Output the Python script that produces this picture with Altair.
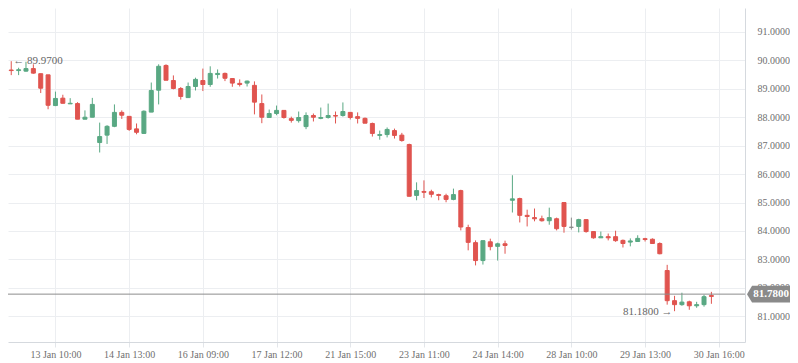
import altair as alt
import pandas as pd

# ---- data (one candle per trading period) ----
opens = [89.66, 89.64, 89.62, 89.71, 89.53, 89.49, 88.41, 88.67, 88.47, 88.48,
         87.93, 88.00, 87.11, 87.37, 87.68, 88.17, 88.03, 87.59, 87.43, 88.18,
         88.95, 89.82, 89.29, 89.01, 88.69, 89.08, 89.29, 89.15, 89.50, 89.54,
         89.36, 89.19, 89.20, 89.12, 88.48, 87.99, 88.13, 88.24, 87.95, 87.88,
         87.67, 88.06, 87.96, 87.99, 88.06, 88.06, 88.17, 88.02, 87.96, 87.78,
         87.36, 87.39, 87.53, 87.37, 87.04, 85.25, 85.39, 85.38, 85.28, 85.24,
         85.11, 85.42, 84.12, 83.59, 82.96, 83.62, 83.46, 83.55, 85.08, 85.14,
         84.55, 84.47, 84.43, 84.36, 84.43, 85.00, 84.13, 84.16, 84.40, 83.98,
         83.76, 83.80, 83.80, 83.67, 83.61, 83.63, 83.73, 83.71, 83.56, 82.61,
         81.55, 81.41, 81.51, 81.37, 81.41, 81.73]
highs = [89.97, 89.74, 89.95, 89.86, 89.53, 89.49, 88.90, 88.79, 88.67, 88.53,
         88.24, 88.68, 87.81, 87.72, 88.45, 88.24, 88.03, 87.78, 88.24, 89.22,
         89.86, 89.86, 89.47, 89.06, 89.22, 89.39, 89.71, 89.79, 89.68, 89.57,
         89.36, 89.33, 89.29, 89.26, 88.80, 88.27, 88.41, 88.24, 88.02, 88.20,
         88.17, 88.13, 88.34, 88.48, 88.20, 88.52, 88.17, 88.17, 87.99, 87.81,
         87.53, 87.64, 87.60, 87.45, 87.07, 85.71, 85.78, 85.45, 85.31, 85.31,
         85.49, 85.45, 84.22, 83.67, 83.66, 83.73, 83.59, 83.66, 85.96, 85.17,
         84.75, 84.79, 84.54, 84.82, 84.47, 85.00, 84.47, 84.43, 84.40, 83.98,
         83.98, 83.91, 84.01, 83.70, 83.74, 83.85, 83.76, 83.74, 83.60, 82.81,
         81.72, 81.83, 81.55, 81.51, 81.76, 81.86]
lows = [89.48, 89.48, 89.60, 89.53, 88.85, 88.28, 88.39, 88.49, 88.47, 87.93,
        87.93, 88.00, 86.76, 87.06, 87.65, 87.94, 87.52, 87.40, 87.41, 88.18,
        88.45, 89.30, 88.98, 88.62, 88.69, 88.94, 88.92, 89.07, 89.36, 89.27,
        89.07, 89.08, 89.08, 88.10, 87.79, 87.99, 88.07, 87.95, 87.81, 87.81,
        87.58, 87.85, 87.93, 87.95, 87.78, 88.02, 87.92, 87.78, 87.79, 87.32,
        87.21, 87.29, 87.25, 87.14, 85.22, 85.08, 85.16, 85.18, 85.08, 85.01,
        85.08, 84.02, 83.32, 82.79, 82.82, 83.32, 82.96, 83.20, 84.65, 84.30,
        84.16, 84.34, 84.33, 84.22, 84.02, 83.94, 84.05, 83.95, 83.94, 83.73,
        83.76, 83.67, 83.62, 83.42, 83.46, 83.63, 83.63, 83.56, 83.18, 81.41,
        81.18, 81.37, 81.23, 81.30, 81.34, 81.44]
closes = [89.64, 89.67, 89.71, 89.55, 89.02, 88.42, 88.66, 88.49, 88.49, 87.93,
          88.00, 88.45, 87.32, 87.68, 88.17, 88.07, 87.57, 87.47, 88.21, 88.94,
          89.79, 89.30, 89.01, 88.73, 89.08, 89.33, 89.15, 89.54, 89.54, 89.37,
          89.20, 89.15, 89.27, 88.53, 88.00, 88.13, 88.24, 87.99, 87.89, 87.99,
          88.06, 88.00, 87.99, 88.06, 88.04, 88.20, 87.99, 87.96, 87.79, 87.43,
          87.39, 87.57, 87.36, 87.18, 85.22, 85.42, 85.36, 85.29, 85.25, 85.11,
          85.28, 84.14, 83.60, 82.96, 83.66, 83.45, 83.55, 83.49, 85.13, 84.55,
          84.51, 84.43, 84.36, 84.47, 84.08, 84.16, 84.13, 84.40, 83.98, 83.76,
          83.80, 83.76, 83.66, 83.56, 83.65, 83.74, 83.70, 83.56, 83.20, 81.55,
          81.41, 81.50, 81.37, 81.41, 81.69, 81.70]

tick_positions = [6, 16, 26, 36, 46, 56, 66, 76, 86, 96]
tick_labels = ["13 Jan 10:00", "14 Jan 13:00", "16 Jan 09:00", "17 Jan 12:00",
               "21 Jan 15:00", "23 Jan 11:00", "24 Jan 14:00", "28 Jan 10:00",
               "29 Jan 13:00", "30 Jan 16:00"]
y_ticks = [81, 82, 83, 84, 85, 86, 87, 88, 89, 90, 91]
last_price = 81.78

GREEN = "#59a883"
RED = "#e0544f"
GRAY = "#8a8a8a"
FONT = "Liberation Serif"

n = len(opens)
colors = []
for o, c in zip(opens, closes):
    colors.append(GREEN if c > o else (RED if c < o else GRAY))

df = pd.DataFrame({"i": list(range(n)), "open": opens, "high": highs,
                   "low": lows, "close": closes, "col": colors})

imax = highs.index(max(highs))
imin = lows.index(min(lows))
ann_max = pd.DataFrame({"i": [imax], "v": [highs[imax]],
                        "t": ["\u2190 " + format(highs[imax], ".4f")]})
ann_min = pd.DataFrame({"i": [imin], "v": [lows[imin]],
                        "t": [format(lows[imin], ".4f") + " \u2192"]})
price_df = pd.DataFrame({"p": [last_price], "t": [format(last_price, ".4f")]})

label_arr = "[" + ",".join("'" + s + "'" for s in tick_labels) + "]"

xscale = alt.Scale(domain=[-0.44, 99.56], nice=False, zero=False, padding=0)
yscale = alt.Scale(domain=[80.097, 91.84], nice=False, zero=False, padding=0)

x_axis = alt.Axis(values=tick_positions, labelExpr=label_arr + "[(datum.value-6)/10]",
                  grid=True, gridColor="#eceef1", domainColor="#d5d9de",
                  tickColor="#e3e6ea", tickSize=5, labelPadding=2,
                  labelColor="#6f6f6f", labelFont=FONT, labelFontSize=10,
                  labelFlush=False, labelOverlap=False, title=None)
y_axis = alt.Axis(orient="right", values=y_ticks, format=".4f", grid=True,
                  gridColor="#eceef1", domainColor="#d5d9de", ticks=False,
                  labelPadding=12, labelColor="#6f6f6f", labelFont=FONT,
                  labelFontSize=10, labelOverlap=False, labelFlush=False, title=None)


def X(field):
    return alt.X(field, type="quantitative", scale=xscale, axis=x_axis)


def Y(field):
    return alt.Y(field, type="quantitative", scale=yscale, axis=y_axis)


base = alt.Chart(df)

wicks = base.mark_rule(strokeWidth=1).encode(
    x=X("i"), y=Y("low"), y2="high:Q",
    color=alt.Color("col:N", scale=None),
)

bodies = base.mark_bar(width=4, strokeWidth=1).encode(
    x=X("i"), y=Y("open"), y2="close:Q",
    color=alt.Color("col:N", scale=None),
    stroke=alt.Stroke("col:N", scale=None),
)

price_line = alt.Chart(price_df).mark_rule(color="#8c8c8c", strokeWidth=1).encode(
    y=Y("p"), x=alt.value(0), x2=alt.value(737),
)

# pointed tag, 44 px wide and 17 px high
box_path = "M -1 0 L -0.77 -0.386 L 1 -0.386 L 1 0.386 L -0.77 0.386 Z"
price_box = alt.Chart(price_df).mark_point(
    shape=box_path, filled=True, size=44 * 44, color="#8a8a8a", opacity=1, strokeWidth=0
).encode(y=Y("p"), x=alt.value(761))

price_text = alt.Chart(price_df).mark_text(
    color="white", font=FONT, fontSize=11, fontWeight="bold", align="center", baseline="middle"
).encode(y=Y("p"), x=alt.value(763), text="t:N")

max_text = alt.Chart(ann_max).mark_text(
    align="left", baseline="middle", dx=2, font=FONT, fontSize=11, color="#666666"
).encode(x=X("i"), y=Y("v"), text="t:N")

min_text = alt.Chart(ann_min).mark_text(
    align="right", baseline="middle", dx=-2, dy=1, font=FONT, fontSize=11, color="#666666"
).encode(x=X("i"), y=Y("v"), text="t:N")

chart = alt.layer(
    wicks, bodies, price_line, max_text, min_text, price_box, price_text
).properties(
    width=737, height=334,
    padding={"left": 0, "top": 0, "right": 45, "bottom": 21},
    autosize=alt.AutoSizeParams(type="none"),
).configure_view(stroke=None)

chart.save("out.html", embed_options={"renderer": "svg", "actions": False})
